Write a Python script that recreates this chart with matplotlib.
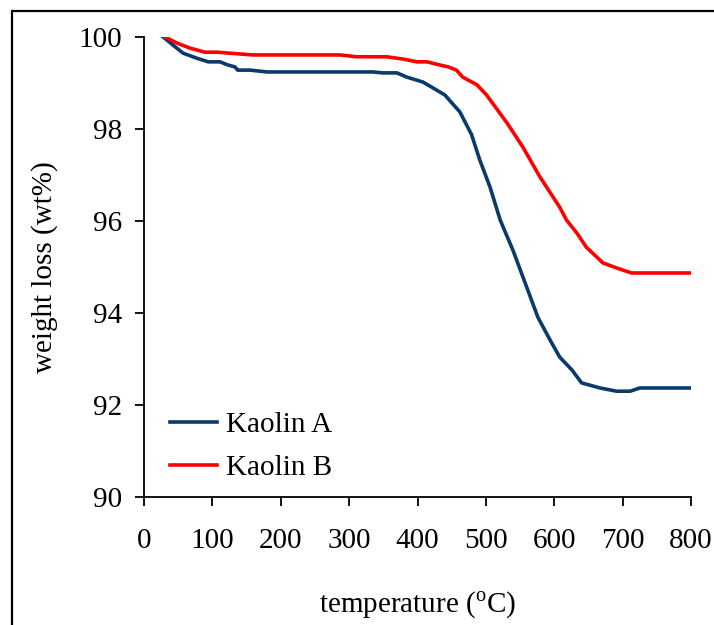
import numpy as np
import matplotlib
matplotlib.use('Agg')
import matplotlib.pyplot as plt
from matplotlib.patches import Rectangle

plt.rcParams['font.family'] = ['Liberation Serif', 'DejaVu Serif']
plt.rcParams['mathtext.fontset'] = 'custom'
plt.rcParams['mathtext.rm'] = 'Liberation Serif'

# Kaolin A
temp_a = [28, 42, 57, 77, 94, 111, 123, 133, 137, 155, 180, 335, 349, 370, 384, 408,
          423, 440, 462, 479, 491, 506, 521, 540, 557, 576, 594, 608, 626, 640, 667,
          691, 711, 725, 800]
wt_a = [100, 99.83, 99.65, 99.54, 99.46, 99.46, 99.39, 99.35, 99.28, 99.28, 99.24,
        99.24, 99.22, 99.22, 99.13, 99.02, 98.89, 98.74, 98.37, 97.88, 97.33, 96.74,
        96.02, 95.35, 94.67, 93.91, 93.41, 93.04, 92.76, 92.48, 92.37, 92.30, 92.30,
        92.37, 92.37]

# Kaolin B
temp_b = [31, 48, 67, 89, 107, 159, 287, 311, 355, 379, 399, 414, 433, 445, 457, 466,
          487, 501, 531, 554, 579, 608, 618, 633, 647, 662, 671, 691, 713, 800]
wt_b = [100, 99.87, 99.76, 99.67, 99.67, 99.61, 99.61, 99.57, 99.57, 99.52, 99.46,
        99.46, 99.39, 99.35, 99.28, 99.13, 98.96, 98.74, 98.13, 97.61, 96.96, 96.3,
        96.02, 95.74, 95.43, 95.22, 95.09, 94.98, 94.87, 94.87]

W, H = 714, 625
fig = plt.figure(figsize=(W / 100, H / 100), dpi=100)
ax = fig.add_axes([144 / W, 1 - 497 / H, (691 - 144) / W, (497 - 37) / H])

ax.plot(temp_a, wt_a, color='#0a3a6c', lw=2.6, label='Kaolin A')
ax.plot(temp_b, wt_b, color='#ff0000', lw=2.6, label='Kaolin B')

ax.set_xlim(0, 800)
ax.set_ylim(90, 100)
ax.set_xticks(np.arange(0, 801, 100))
ax.set_yticks(np.arange(90, 101, 2))
ax.spines['top'].set_visible(False)
ax.spines['right'].set_visible(False)
for s in ('left', 'bottom'):
    ax.spines[s].set_linewidth(1.3)
ax.tick_params(axis='both', direction='out', length=6.5, width=1.3, labelsize=21)
ax.tick_params(axis='y', pad=9)
ax.tick_params(axis='x', pad=16)

ax.set_xlabel(r'temperature ($^{\rm o}$C)', fontsize=21, labelpad=26)
ax.set_ylabel('weight loss (wt%)', fontsize=21, labelpad=15)

ax.legend(loc='lower left', bbox_to_anchor=(0.027, 0.01), borderaxespad=0,
          frameon=False, fontsize=21, handlelength=1.6, handletextpad=0.3,
          labelspacing=0.55)

# outer frame around the figure
fig.patches.append(Rectangle((12 / W, -0.5), 2, 1.5 - 11 / H, transform=fig.transFigure,
                             fill=False, edgecolor='black', lw=1.6))

fig.savefig('out.png', dpi=100)
